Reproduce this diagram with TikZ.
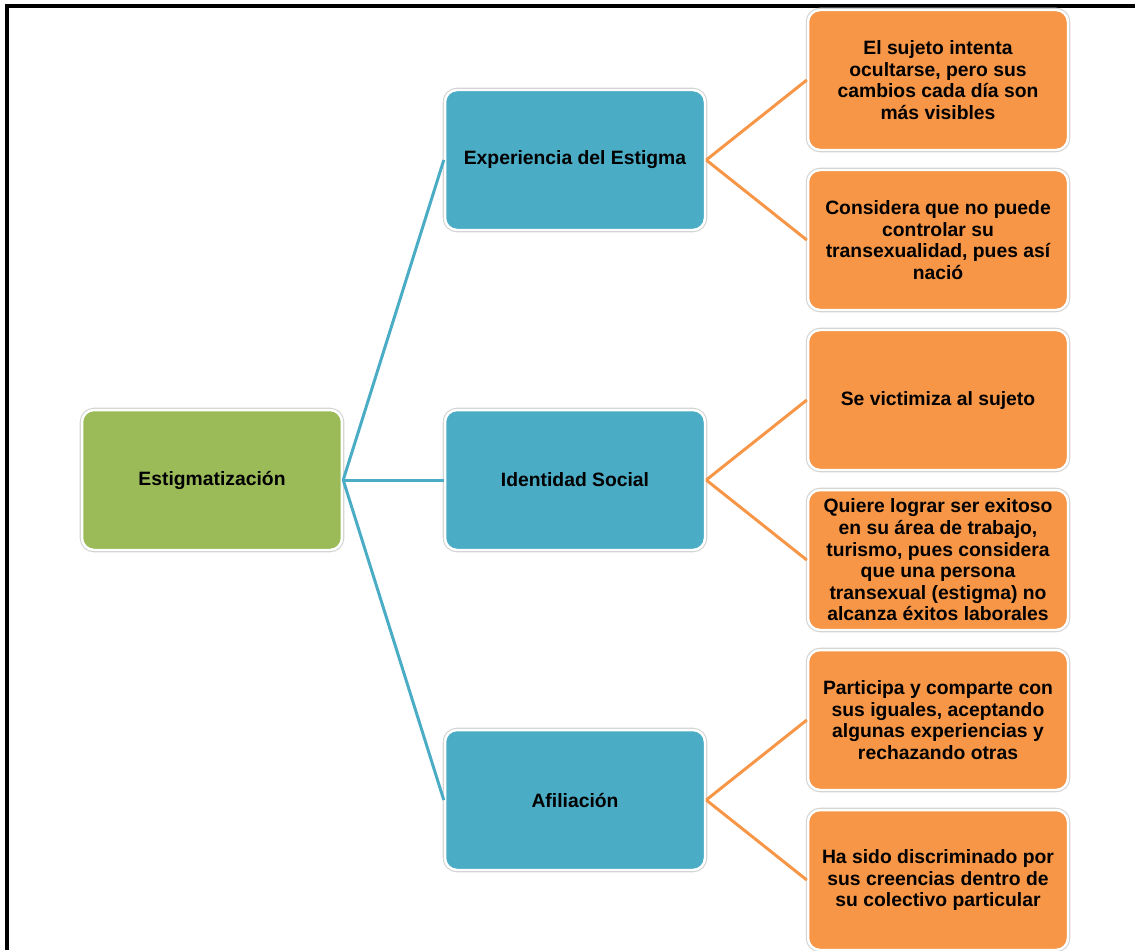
\documentclass[tikz,border=0pt]{standalone}
\usepackage{fontspec}
\setmainfont{Liberation Sans}
\definecolor{verde}{HTML}{9BBB59}
\definecolor{azul}{HTML}{4BACC6}
\definecolor{naranja}{HTML}{F79646}

\begin{document}
\begin{tikzpicture}[x=0.02cm,y=-0.02cm,
	caja/.style={rounded corners=0.24cm, minimum width=5.2cm, minimum height=2.8cm,
		align=center, font=\bfseries\fontsize{11}{12.3}\selectfont,
		draw=white, line width=1.4pt, preaction={draw=black!18, line width=2.6pt}},
	raiz/.style={caja, fill=verde},
	rama/.style={caja, fill=azul},
	hoja/.style={caja, fill=naranja},
	lazoA/.style={azul, line width=1.7pt},
	lazoN/.style={naranja, line width=1.7pt}]
	\useasboundingbox (0,0) rectangle (1135,950);
	\draw[line width=1.8pt] (7,950) -- (7,6) -- (1135,6);
		\node[raiz] (E) at (212,480) {Estigmatización};
		\node[rama] (EE) at (575,160) {Experiencia del Estigma};
		\node[rama] (IS) at (575,480) {Identidad Social};
		\node[rama] (AF) at (575,800) {Afiliación};
		\node[hoja] (H1) at (938,80) {El sujeto intenta\\ocultarse, pero sus\\cambios cada día son\\más visibles};
		\node[hoja] (H2) at (938,240) {Considera que no puede\\controlar su\\transexualidad, pues así\\nació};
		\node[hoja] (H3) at (938,400) {Se victimiza al sujeto};
		\node[hoja] (H4) at (938,560) {Quiere lograr ser exitoso\\en su área de trabajo,\\turismo, pues considera\\que una persona\\transexual (estigma) no\\alcanza éxitos laborales};
		\node[hoja] (H5) at (938,720) {Participa y comparte con\\sus iguales, aceptando\\algunas experiencias y\\rechazando otras};
		\node[hoja] (H6) at (938,880) {Ha sido discriminado por\\sus creencias dentro de\\su colectivo particular};
	%	primer nivel
		\draw[lazoA] (E.east) -- (EE.west);
		\draw[lazoA] (E.east) -- (IS.west);
		\draw[lazoA] (E.east) -- (AF.west);
	%	segundo nivel
		\draw[lazoN] (EE.east) -- (H1.west);
		\draw[lazoN] (EE.east) -- (H2.west);
		\draw[lazoN] (IS.east) -- (H3.west);
		\draw[lazoN] (IS.east) -- (H4.west);
		\draw[lazoN] (AF.east) -- (H5.west);
		\draw[lazoN] (AF.east) -- (H6.west);
\end{tikzpicture}
\end{document}
